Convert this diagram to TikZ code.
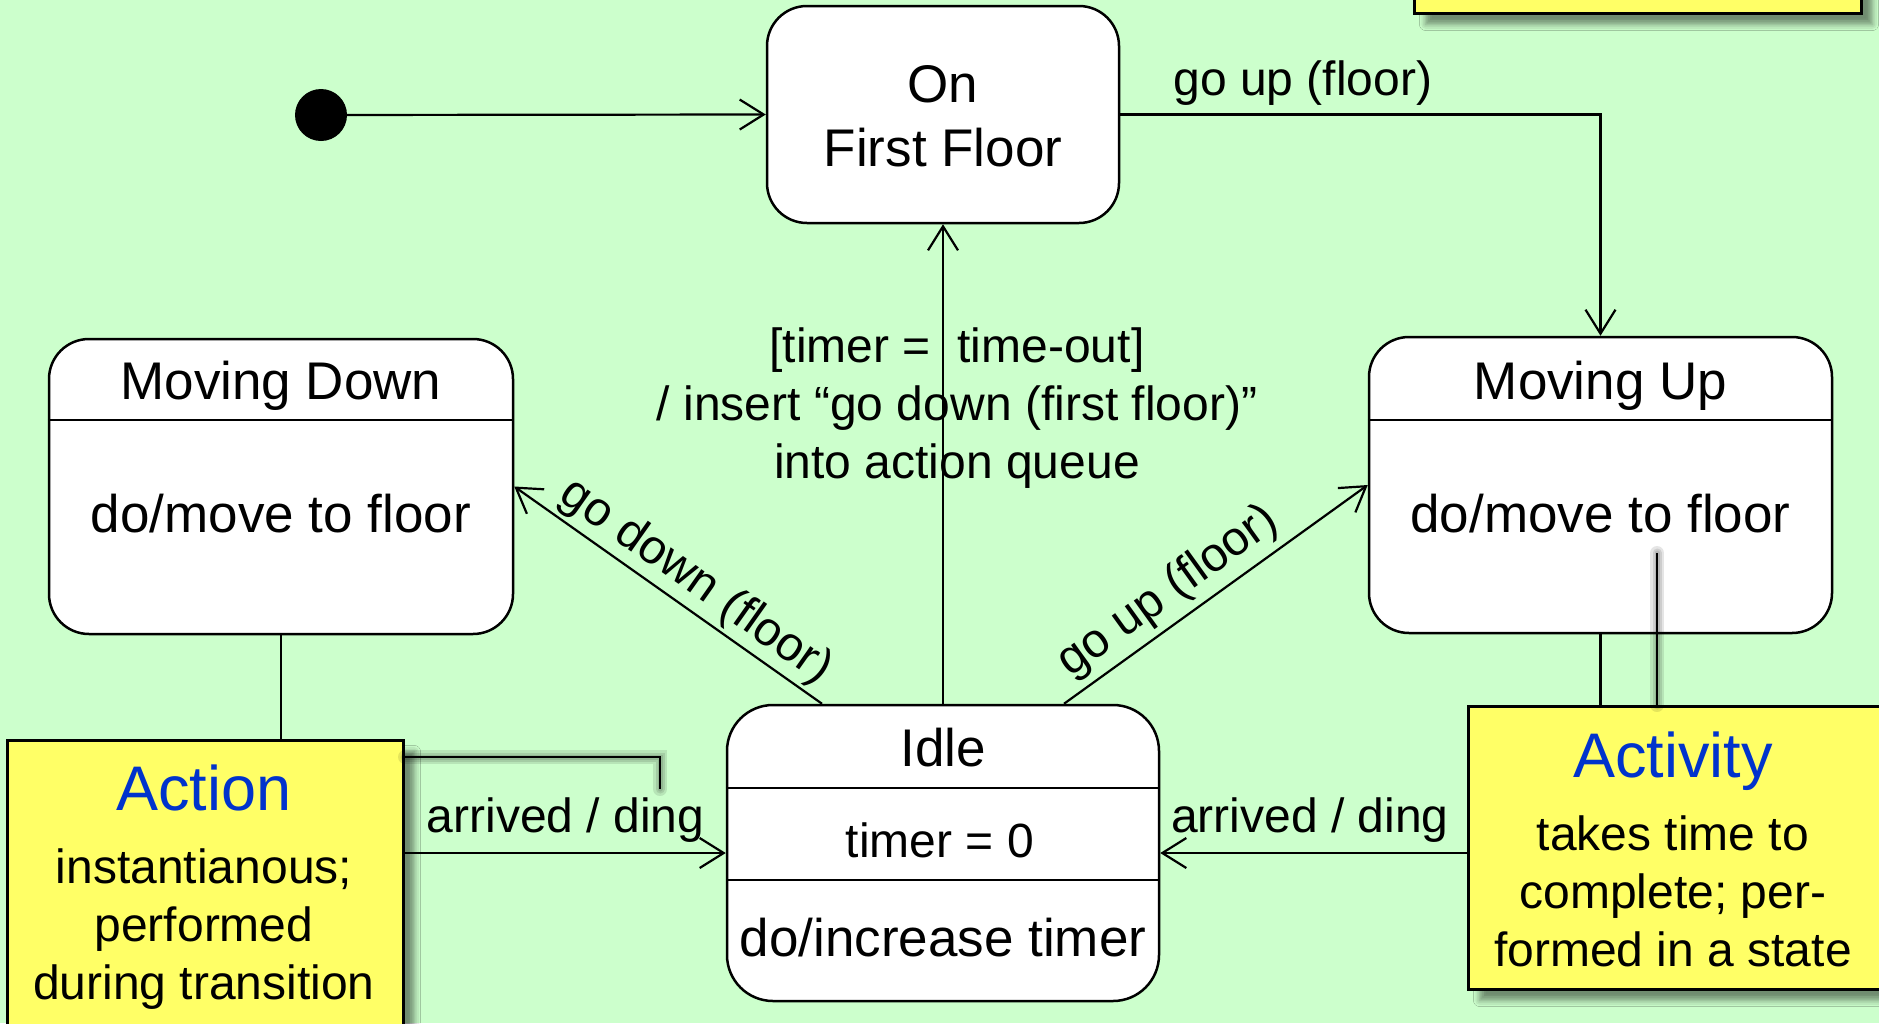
\documentclass[tikz,border=0pt]{standalone}
\usepackage{fontspec}
\setmainfont{Liberation Sans}
\usetikzlibrary{arrows.meta,calc,shadows.blur}
\definecolor{bggreen}{RGB}{204,255,204}
\definecolor{noteyellow}{RGB}{255,255,102}
\definecolor{noteblue}{RGB}{0,51,204}

\begin{document}
\begin{tikzpicture}[x=1pt, y=-1pt,
  statebox/.style={draw, fill=white, line width=2.5pt, rounded corners=40pt, inner sep=0pt},
  divider/.style={line width=2.5pt},
  notebox/.style={draw, fill=noteyellow, line width=3pt, inner sep=0pt,
    blur shadow={shadow xshift=11pt, shadow yshift=-11pt, shadow blur radius=6pt, shadow opacity=45}},
  stxt/.style={font=\fontsize{53}{63.6}\selectfont, inner sep=0pt, anchor=base},
  smalltxt/.style={font=\fontsize{48}{57.6}\selectfont, inner sep=0pt, anchor=base},
  lbl/.style={font=\fontsize{48}{57.6}\selectfont},
  ntitle/.style={font=\fontsize{63}{75}\selectfont, text=noteblue, inner sep=0pt, anchor=base},
  nbody/.style={font=\fontsize{48}{57.6}\selectfont, inner sep=0pt, align=center, anchor=north},
  trans/.style={line width=2.2pt, -{Straight Barb[length=24pt,width=30pt]}},
  pin/.style={line width=2.5pt},
  pinshade/.style={line cap=round, opacity=0.1}
]
\useasboundingbox (0,0) rectangle (1879,1023);
\clip (0,0) rectangle (1879,1023);
\fill[bggreen] (0,0) rectangle (1879,1023);

% initial pseudo-state
\node[circle, fill=black, minimum size=52pt, inner sep=0pt] (init) at (321,115) {};

% state: On First Floor
\node[statebox, minimum width=352pt, minimum height=217pt] (off) at (943,114.5) {};
\node[stxt] (offA) at (943,102) {On};
\node[stxt] (offB) at (943,166) {First Floor};

% state: Moving Down
\node[statebox, minimum width=464pt, minimum height=295pt] (md) at (281,486.5) {};
\draw[divider] ($(md.north west)+(0,82)$) -- ($(md.north east)+(0,82)$);
\node[stxt] (mdT) at (281,399) {Moving Down};
\node[stxt] (mdB) at (281,532) {do/move to floor};

% state: Moving Up
\node[statebox, minimum width=463pt, minimum height=296pt] (mu) at (1600.5,485) {};
\draw[divider] ($(mu.north west)+(0,84)$) -- ($(mu.north east)+(0,84)$);
\node[stxt] (muT) at (1600.5,399) {Moving Up};
\node[stxt] (muB) at (1600.5,532) {do/move to floor};

% state: Idle
\node[statebox, rounded corners=46pt, minimum width=432pt, minimum height=296pt] (idle) at (943,853) {};
\draw[divider] ($(idle.north west)+(0,84)$) -- ($(idle.north east)+(0,84)$);
\draw[divider] ($(idle.north west)+(0,176)$) -- ($(idle.north east)+(0,176)$);
\node[stxt] (idT) at (943,766) {Idle};
\node[smalltxt] (idM) at (940,857) {timer = 0};
\node[stxt] (idB) at (943,956) {do/increase timer};

% transitions
\draw[trans] (init) -- (off.west);
\draw[trans] (off.east) -| node[lbl, above, pos=0.19, yshift=5pt] (lblTop) {go up (floor)} (mu.north);
\draw[trans] (idle.north) -- (off.south);
\node[lbl, align=center, anchor=north, inner sep=0pt] (guard) at (957,328)
  {[timer = \ time-out]\\/ insert “go down (first floor)”\\into action queue};
\draw[trans] ($(idle.north)+(-121,0)$) -- node[lbl, sloped, above, pos=0.46] (lblDown) {go down (floor)} (md.east);
\draw[trans] ($(idle.north)+(121,0)$) -- node[lbl, sloped, above, pos=0.40, yshift=3pt] (lblUp) {go up (floor)} (mu.west);
\draw[trans] (md.south) |- node[lbl, above, pos=0.82, yshift=6pt] (lblArrL) {arrived / ding} (idle.west);
\draw[trans] (mu.south) |- node[lbl, above, pos=0.83, yshift=6pt] (lblArrR) {arrived / ding} (idle.east);

% notes
\node[notebox, minimum width=447pt, minimum height=80pt, anchor=south west] (topnote) at (1413,15) {};
\node[notebox, minimum width=396pt, minimum height=330pt, anchor=north west] (action) at (6,739) {};
\node[notebox, minimum width=412pt, minimum height=283pt, anchor=north west] (activity) at (1467,705) {};

\node[ntitle] (actT) at (204,810) {Action};
\node[nbody] (actB) at (204,849) {instantianous;\\performed\\during transition};
\node[ntitle] (actvT) at (1673,777) {Activity};
\node[nbody] (actvB) at (1673,816) {takes time to\\complete; per-\\formed in a state};

% note anchors with soft shadows
\coordinate (actPin) at (660,789);
\coordinate (actvPin) at (1657,553);
\begin{scope}[shift={(8,8)}]
  \foreach \w in {14,9,5} {
    \draw[pinshade, line width=\w pt] ($(action.north east)+(0,18)$) -| (actPin);
    \draw[pinshade, line width=\w pt] (activity.north -| actvPin) -- (actvPin);
  }
\end{scope}
\draw[pin] ($(action.north east)+(0,18)$) -| (actPin);
\draw[pin] (activity.north -| actvPin) -- (actvPin);
\end{tikzpicture}
\end{document}
